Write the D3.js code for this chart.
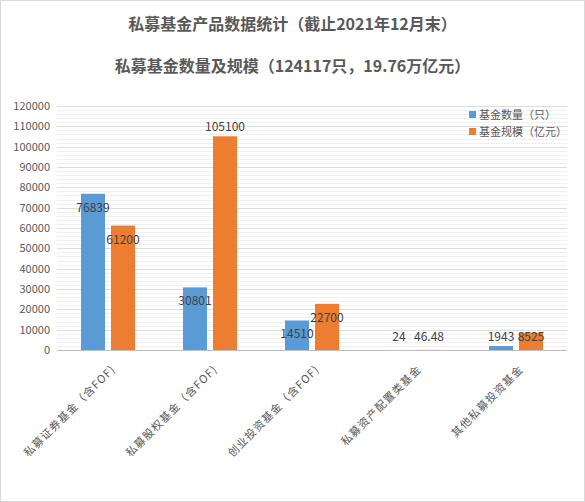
<!DOCTYPE html>
<html><head><meta charset="utf-8">
<script src="https://cdn.jsdelivr.net/npm/d3@7"></script>
<style>body{margin:0;background:#fff;font-family:"Noto Sans CJK SC",sans-serif;}</style>
</head><body>
<script>
var categories=["私募证券基金（含FOF)","私募股权基金（含FOF)","创业投资基金（含FOF)","私募资产配置类基金","其他私募投资基金"];
var seriesNames=["基金数量（只）","基金规模（亿元）"];
var counts=[76839,30801,14510,24,1943];
var scales=[61200,105100,22700,46.48,8525];
var countLabels=["76839","30801","14510","24","1943"];
var scaleLabels=["61200","105100","22700","46.48","8525"];
var yTicks=[0,10000,20000,30000,40000,50000,60000,70000,80000,90000,100000,110000,120000];
var colors=["#5b9bd5","#ed7d31"];

var width=585,height=502;
var svg=d3.select("body").append("svg").attr("width",width).attr("height",height);
svg.append("rect").attr("x",0.5).attr("y",0.5).attr("width",width-1).attr("height",height-1).attr("fill","#fff").attr("stroke","#d9d9d9");
svg.append("text").attr("x",width/2).attr("y",30).attr("text-anchor","middle").attr("font-size","16px").attr("font-weight","bold").attr("fill","#595959").text("私募基金产品数据统计（截止2021年12月末）");
svg.append("text").attr("x",width/2).attr("y",72).attr("text-anchor","middle").attr("font-size","16px").attr("font-weight","bold").attr("fill","#595959").text("私募基金数量及规模（124117只，19.76万亿元）");

var x=d3.scaleBand().domain(categories).range([57,567]);
var y=d3.scaleLinear().domain([0,120000]).range([350,106]);

svg.append("g").selectAll("line").data(d3.range(0,120001,2000)).enter().append("line")
  .attr("x1",57).attr("x2",567).attr("y1",function(d){return Math.round(y(d))+0.5;}).attr("y2",function(d){return Math.round(y(d))+0.5;})
  .attr("stroke",function(d){return d===0?"#bfbfbf":(d%10000===0?"#dcdcdc":"#f0f0f0");});
svg.append("g").selectAll("text").data(yTicks).enter().append("text")
  .attr("x",50).attr("y",function(d){return y(d)+4;}).attr("text-anchor","end")
  .attr("font-size","11px").attr("fill","#595959").text(function(d){return d;});

var bw=24;
var series=[counts,scales],labels=[countLabels,scaleLabels];
series.forEach(function(s,si){
  var g=svg.append("g");
  g.selectAll("rect").data(s).enter().append("rect")
    .attr("x",function(d,i){return x(categories[i])+x.bandwidth()/2+(si===0?-27:3);})
    .attr("y",function(d){return y(d);}).attr("width",bw)
    .attr("height",function(d){return 350-y(d);}).attr("fill",colors[si]);
  g.selectAll("text").data(s).enter().append("text")
    .attr("x",function(d,i){return x(categories[i])+x.bandwidth()/2+(si===0?-15:15);})
    .attr("y",function(d){return d>100000?y(d)-5:Math.min(y(d)+18,341);})
    .attr("text-anchor","middle").attr("font-size","12px").attr("fill","#404040")
    .text(function(d,i){return labels[si][i];});
});

svg.append("g").selectAll("text").data(categories).enter().append("text")
  .attr("transform",function(d){return "translate("+(x(d)+x.bandwidth()/2+8)+",370) rotate(-45)";})
  .attr("text-anchor","end").attr("font-size","11px").attr("letter-spacing","1px").attr("fill","#595959").text(function(d){return d;});

var leg=svg.append("g");
seriesNames.forEach(function(n,i){
  leg.append("rect").attr("x",469).attr("y",111+i*17).attr("width",7).attr("height",7).attr("fill",colors[i]);
  leg.append("text").attr("x",479).attr("y",119+i*17).attr("font-size","11px").attr("fill","#595959").text(n);
});
</script>
</body></html>
